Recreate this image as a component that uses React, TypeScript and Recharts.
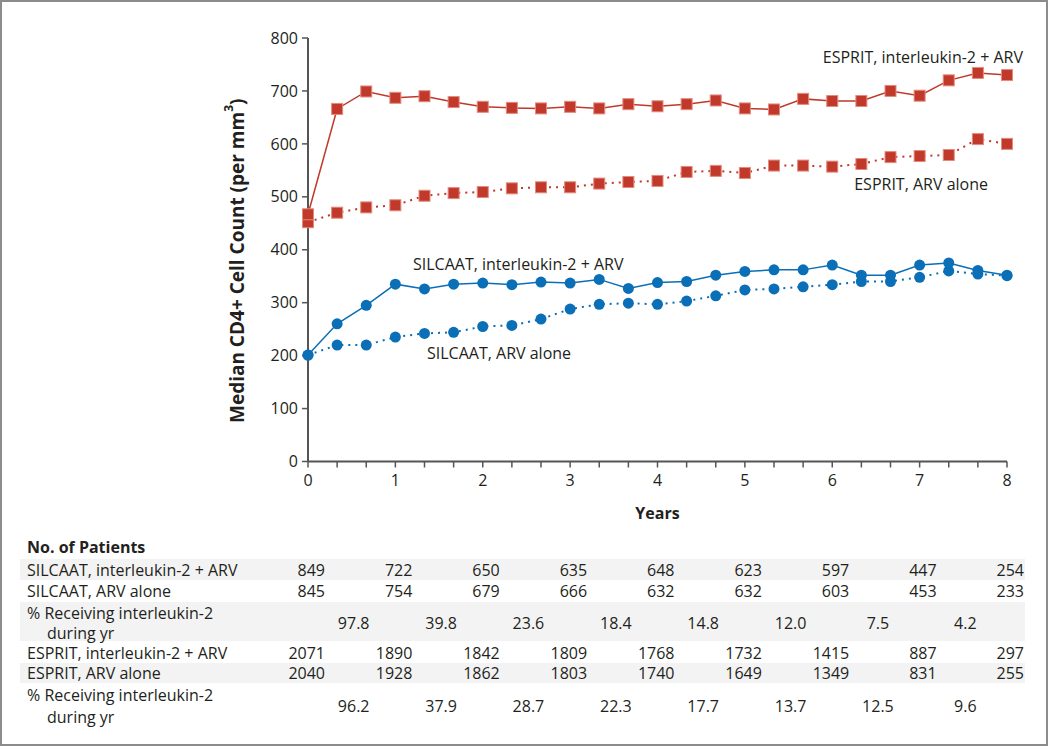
import React from 'react';
import { LineChart, Line, XAxis, YAxis, Label, Customized } from 'recharts';

// ---- data ----
const months = [0, 4, 8, 12, 16, 20, 24, 28, 32, 36, 40, 44, 48, 52, 56, 60, 64, 68, 72, 76, 80, 84, 88, 92, 96];
const espritIL2 = [467, 666, 699, 687, 690, 679, 670, 668, 667, 670, 667, 675, 671, 675, 682, 667, 665, 685, 681, 681, 700, 691, 720, 734, 730];
const espritARV = [452, 470, 480, 484, 502, 507, 509, 516, 518, 518, 525, 528, 530, 547, 549, 545, 559, 559, 557, 562, 575, 577, 579, 609, 600];
const silcaatIL2 = [201, 260, 295, 335, 326, 335, 337, 334, 339, 337, 344, 327, 338, 340, 352, 359, 362, 362, 371, 352, 352, 371, 375, 361, 352];
const silcaatARV = [201, 220, 220, 235, 242, 244, 255, 257, 269, 288, 297, 299, 297, 303, 313, 324, 326, 330, 334, 340, 340, 348, 360, 354, 351];
const yTicks = [0, 100, 200, 300, 400, 500, 600, 700, 800];

const tableYears = [0, 1, 2, 3, 4, 5, 6, 7, 8];
const silIL2N = [849, 722, 650, 635, 648, 623, 597, 447, 254];
const silARVN = [845, 754, 679, 666, 632, 632, 603, 453, 233];
const silPct = ['97.8', '39.8', '23.6', '18.4', '14.8', '12.0', '7.5', '4.2'];
const espIL2N = [2071, 1890, 1842, 1809, 1768, 1732, 1415, 887, 297];
const espARVN = [2040, 1928, 1862, 1803, 1740, 1649, 1349, 831, 255];
const espPct = ['96.2', '37.9', '28.7', '22.3', '17.7', '13.7', '12.5', '9.6'];

const data = months.map((m, i) => ({
  m,
  espIL2: espritIL2[i],
  espARV: espritARV[i],
  silIL2: silcaatIL2[i],
  silARV: silcaatARV[i],
}));

// ---- layout ----
const W = 1050;
const CH = 530;
const YAXIS_W = 60;
const XAXIS_H = 30;
const M = { top: 38, right: 43, bottom: 38.5, left: 248 };
const PLOT_LEFT = M.left + YAXIS_W;
const PLOT_RIGHT = W - M.right;
const xOf = (yr: number) => PLOT_LEFT + ((PLOT_RIGHT - PLOT_LEFT) * yr) / 8;

const RED = '#c0392b';
const RED_EDGE = '#e58a7d';
const BLUE = '#0a6fb7';
const AXIS = '#555555';
const TXT = '#231f20';
const FONT = '"Open Sans", Lato, sans-serif';

const Square = (props: any) => {
  const { cx, cy, index } = props;
  if (cx == null || cy == null) return <g key={`s-${index}`} />;
  return (
    <rect key={`s-${index}`} x={cx - 5.5} y={cy - 5.5} width={11} height={11} fill={RED} stroke={RED_EDGE} strokeWidth={1} />
  );
};

const Annotations = () => (
  <g fontFamily={FONT} fontSize={16} fill={TXT}>
    <text x={1023} y={57} textAnchor="end" dominantBaseline="central">ESPRIT, interleukin-2 + ARV</text>
    <text x={988} y={183.5} textAnchor="end" dominantBaseline="central">ESPRIT, ARV alone</text>
    <text x={413} y={263.5} textAnchor="start" dominantBaseline="central">SILCAAT, interleukin-2 + ARV</text>
    <text x={427} y={352.5} textAnchor="start" dominantBaseline="central">SILCAAT, ARV alone</text>
  </g>
);

const Table = () => {
  const countRight = (i: number) => xOf(tableYears[i]) + 17;
  const pctX = (i: number) => xOf(tableYears[i] + 0.5) + 2;
  const rowLabel = (t: string, y: number, indent = 0) => (
    <text x={27 + indent} y={y} dominantBaseline="central">{t}</text>
  );
  const counts = (arr: number[], y: number) =>
    arr.map((v, i) => (
      <text key={i} x={countRight(i)} y={y} textAnchor="end" dominantBaseline="central">{v}</text>
    ));
  const pcts = (arr: string[], y: number) =>
    arr.map((v, i) => (
      <text key={i} x={pctX(i)} y={y} textAnchor="middle" dominantBaseline="central">{v}</text>
    ));
  return (
    <svg width={W} height={748} style={{ position: 'absolute', left: 0, top: 0 }}>
      <g fill="#f3f3f3">
        <rect x={20} y={559} width={1005} height={21} />
        <rect x={20} y={602} width={1005} height={39} />
        <rect x={20} y={663} width={1005} height={20} />
      </g>
      <g fontFamily={FONT} fontSize={16} fill={TXT}>
        <text x={27} y={547} dominantBaseline="central" fontWeight="bold">No. of Patients</text>
        {rowLabel('SILCAAT, interleukin-2 + ARV', 570)}
        {counts(silIL2N, 570)}
        {rowLabel('SILCAAT, ARV alone', 591)}
        {counts(silARVN, 591)}
        {rowLabel('% Receiving interleukin-2', 613)}
        {rowLabel('during yr', 633, 20)}
        {pcts(silPct, 623)}
        {rowLabel('ESPRIT, interleukin-2 + ARV', 653)}
        {counts(espIL2N, 653)}
        {rowLabel('ESPRIT, ARV alone', 673)}
        {counts(espARVN, 673)}
        {rowLabel('% Receiving interleukin-2', 695)}
        {rowLabel('during yr', 716.5, 20)}
        {pcts(espPct, 706)}
      </g>
    </svg>
  );
};

export default function App() {
  return (
    <div style={{ position: 'absolute', left: 0, top: 0, width: W, height: 748, background: '#fff' }}>
      <Table />
      <div style={{ position: 'absolute', left: 0, top: 0 }}>
        <LineChart width={W} height={CH} data={data} margin={M}>
          <XAxis
            dataKey="m"
            type="number"
            domain={[0, 96]}
            ticks={months}
            tickFormatter={(v: number) => (v % 12 === 0 ? String(v / 12) : '')}
            axisLine={{ stroke: AXIS, strokeWidth: 2 }}
            tickLine={{ stroke: AXIS, strokeWidth: 1.5 }}
            tickSize={6}
            tickMargin={7}
            height={XAXIS_H}
            tick={{ fill: TXT, fontSize: 16, fontFamily: FONT }}
            interval={0}
          >
            <Label
              content={(p: any) => {
                const vb = p.viewBox || {};
                return (
                  <text x={vb.x + vb.width / 2} y={513} textAnchor="middle" dominantBaseline="central" fontFamily={FONT} fontSize={16} fontWeight="bold" fill={TXT}>
                    Years
                  </text>
                );
              }}
            />
          </XAxis>
          <YAxis
            type="number"
            domain={[0, 800]}
            ticks={yTicks}
            width={YAXIS_W}
            axisLine={{ stroke: AXIS, strokeWidth: 2 }}
            tickLine={{ stroke: AXIS, strokeWidth: 1.5 }}
            tickSize={6}
            tickMargin={4}
            tick={{ fill: TXT, fontSize: 16, fontFamily: FONT }}
            interval={0}
          >
            <Label
              content={(p: any) => {
                const vb = p.viewBox || {};
                const cx = vb.x + vb.width - 71;
                const cy = vb.y + vb.height / 2 + 11;
                return (
                  <text x={cx} y={cy} transform={`rotate(-90 ${cx} ${cy})`} textAnchor="middle" dominantBaseline="central" fontFamily={FONT} fontSize={19} fontWeight="bold" fill={TXT}>
                    Median CD4+ Cell Count (per mm<tspan baselineShift="super" fontSize={12}>3</tspan>)
                  </text>
                );
              }}
            />
          </YAxis>
          <Line dataKey="espARV" stroke={RED} strokeWidth={2} strokeDasharray="2 5" dot={Square} isAnimationActive={false} />
          <Line dataKey="espIL2" stroke={RED} strokeWidth={1.5} dot={Square} isAnimationActive={false} />
          <Line dataKey="silARV" stroke={BLUE} strokeWidth={2} strokeDasharray="2 5" dot={{ r: 5.5, fill: BLUE, stroke: BLUE, strokeWidth: 0 }} isAnimationActive={false} />
          <Line dataKey="silIL2" stroke={BLUE} strokeWidth={1.5} dot={{ r: 5.5, fill: BLUE, stroke: BLUE, strokeWidth: 0 }} isAnimationActive={false} />
          <Customized component={Annotations} />
        </LineChart>
      </div>
      <div style={{ position: 'absolute', left: 0, top: 0, width: 1048, height: 746, border: '2px solid #8c8c8c', boxSizing: 'border-box', pointerEvents: 'none' }} />
    </div>
  );
}
